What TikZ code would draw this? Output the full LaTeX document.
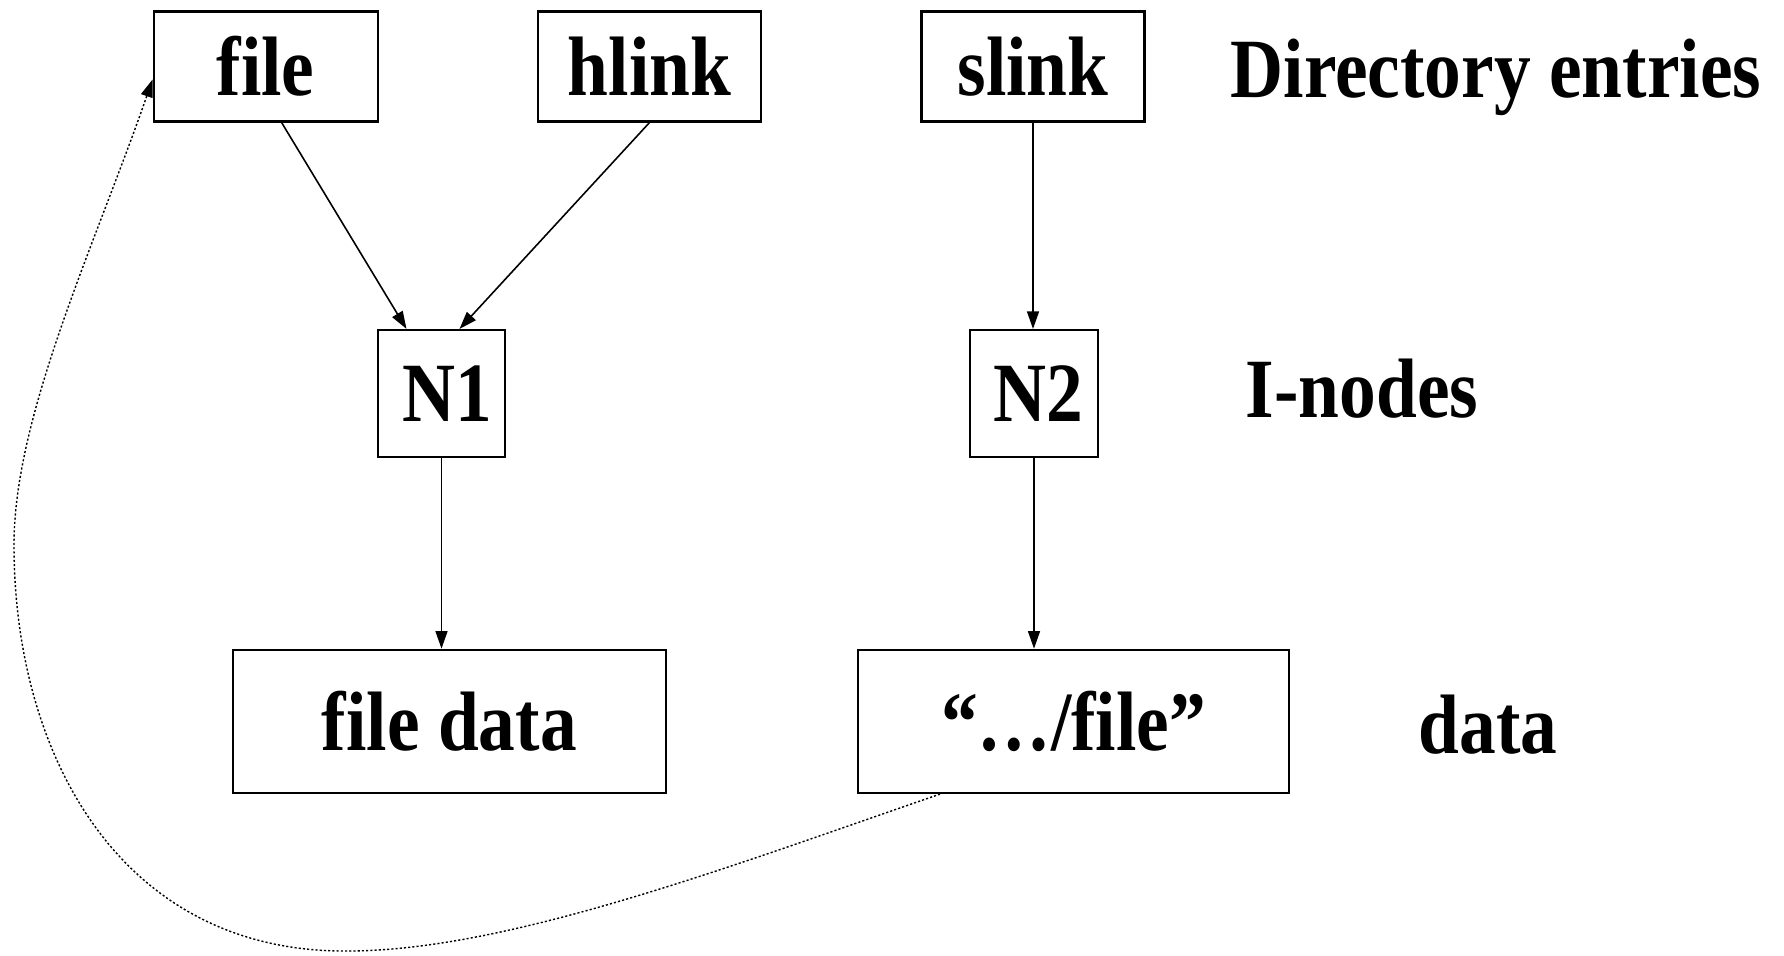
\documentclass[tikz,border=0pt]{standalone}
\usepackage{fontspec}
\setmainfont{Liberation Serif}[FakeStretch=0.87]
\usetikzlibrary{arrows.meta,calc,positioning}

\begin{document}
\begin{tikzpicture}[
  box/.style={draw,line width=0.6pt,inner sep=0pt,font=\bfseries\fontsize{24}{28}\selectfont},
  lbl/.style={inner sep=0pt,anchor=base west,font=\bfseries\fontsize{24}{28}\selectfont},
  arr/.style={line width=0.45pt,-{Triangle[length=5pt,width=3.4pt]}},
  dotarr/.style={line width=0.4pt,dash pattern=on 0.6pt off 0.6pt,-{Triangle[length=5pt,width=3.4pt]}}]
\useasboundingbox (0,0) rectangle (17.84,9.55);
% directory entries
\node[box,minimum width=2.24cm,minimum height=1.1cm] (file) at (2.656,8.885) {file};
\node[box,minimum width=2.23cm,minimum height=1.1cm] (hlink) at (6.495,8.885) {hlink};
\node[box,minimum width=2.23cm,minimum height=1.1cm] (slink) at (10.33,8.885) {slink};
% i-nodes
\node[box,minimum width=1.275cm,minimum height=1.274cm,text depth=0pt] (N1) at (4.415,5.613) {\hspace{0.12cm}N1};
\node[box,minimum width=1.275cm,minimum height=1.274cm,text depth=0pt] (N2) at (10.34,5.613) {\hspace{0.08cm}N2};
% data blocks
\node[box,minimum width=4.326cm,minimum height=1.433cm] (fdata) at (4.493,2.336) {file data};
\node[box,minimum width=4.31cm,minimum height=1.433cm] (sdata) at (10.735,2.336) {“…/file”};
% row labels
\node[lbl] (dirlbl) at (12.30,8.571) {Directory entries};
\node[lbl] (inolbl) at (12.45,5.374) {I-nodes};
\node[lbl] (datlbl) at (14.18,2.02) {data};
% links
\draw[arr] ($(file.south)+(0.16,0)$) -- ($(N1.north)+(-0.35,0)$);
\draw[arr] (hlink.south) -- ($(N1.north)+(0.18,0)$);
\draw[arr] (slink.south) -- (slink.south |- N2.north);
\draw[arr] (N1.south) -- (N1.south |- fdata.north);
\draw[arr] (N2.south) -- (N2.south |- sdata.north);
% symbolic link back to file
\coordinate (B1) at (3.41,0.04);
\coordinate (B2) at (0.14,4.1);
\draw[dotarr] ($(sdata.south)+(-1.335,0)$) .. controls (7.2,0.85) and (5.0,0.02) .. (B1)
  .. controls (1.2,0.06) and (0.14,2.0) .. (B2)
  .. controls (0.14,5.4) and (0.95,7.1) .. ($(file.west)+(0,-0.13)$);
\end{tikzpicture}
\end{document}
